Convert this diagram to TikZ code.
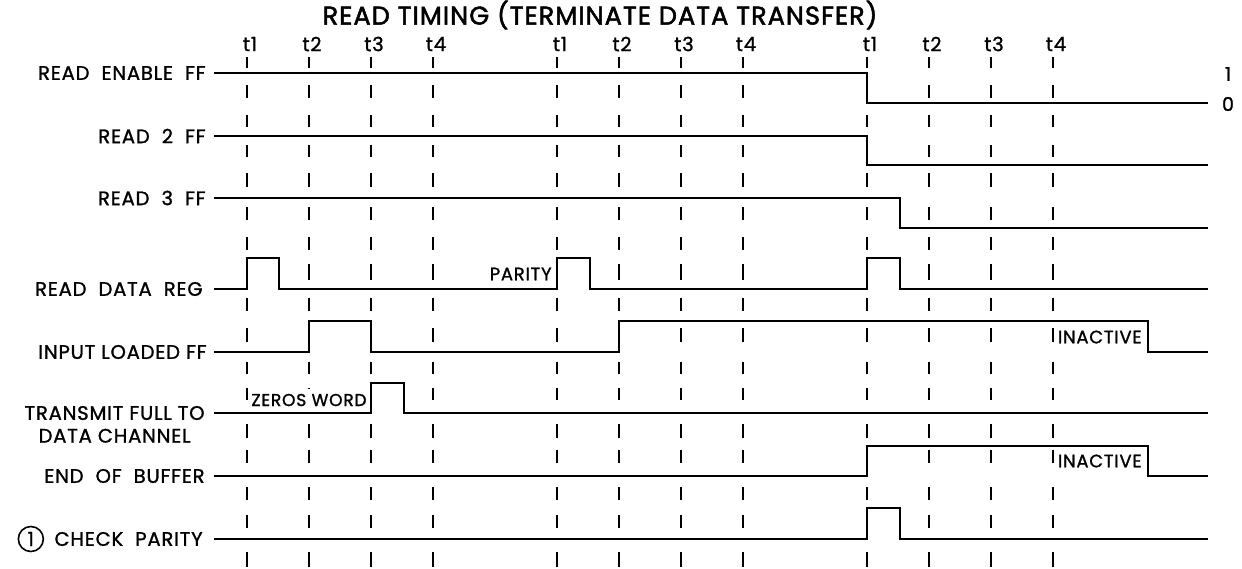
\documentclass[tikz,border=0pt]{standalone}
\usepackage{fontspec}
\setmainfont{Poppins}[LetterSpace=4,FakeBold=1.2]
\usetikzlibrary{positioning}

\begin{document}
\begin{tikzpicture}[
    x=0.5pt, y=-0.5pt,
    every node/.style={font=\fontsize{9.8}{11}\selectfont, inner sep=0pt},
    sig/.style={draw=black, line width=1pt, line join=miter},
    tick/.style={draw=black, line width=0.8pt},
    lbl/.style={anchor=east},
    note/.style={anchor=east, font=\fontsize{9}{10}\selectfont},
    lvl/.style={font=\fontsize{9.5}{10}\selectfont}
  ]
  \useasboundingbox (0,0) rectangle (1242,568);
  % title
  \node[font=\fontsize{12.8}{14}\selectfont\addfontfeatures{FakeBold=2}] (title) at (600,15) {READ TIMING (TERMINATE DATA TRANSFER)};
  % clock phases: dashed time lines and their labels
  \foreach \c [count=\n] in {247,557,867}{
    \foreach \k in {0,...,3}{
      \pgfmathsetmacro{\tx}{\c+62*\k}
      \pgfmathtruncatemacro{\tn}{\k+1}
      \node (t\tn-\n) at (\tx+3,44) {t\tn};
      \foreach \ya/\yb in {57/68,85/98,115/127,145/157,173/187,207/220,237/250,264/280,298/311,328/342,362/374,388/400,424/438,450/463,487/500,515/528,552/567}{
        \draw[tick] (\tx,\ya) -- (\tx,\yb);
      }
    }
  }
  % signal names
  \node[lbl] (ren) at (206,73) {READ~~ENABLE~~FF};
  \node[lbl] (rd2) at (206,136) {READ~~2~~FF};
  \node[lbl] (rd3) at (206,198) {READ~~3~~FF};
  \node[lbl] (rdr) at (203,289) {READ~~DATA~~REG};
  \node[lbl] (ilf) at (207,352) {INPUT LOADED FF};
  \node[lbl] (tfd) at (205,413) {TRANSMIT FULL TO};
  \node[below=4pt of tfd] (tfd2) {DATA CHANNEL};
  \node[lbl] (eob) at (205,476) {END~~OF~~BUFFER};
  \node[lbl] (cpy) at (203,539) {CHECK~~PARITY};
  \node[circle, draw, line width=0.8pt, minimum size=12.5pt, left=5pt of cpy] (cpn) {1};
  % levels
  \node[lvl] (lv1) at (1228,74) {1};
  \node[lvl] (lv0) at (1228,104) {0};
  % waveforms
  \draw[sig] (214,73) -- (867,73) -- (867,103) -- (1208,103);
  \draw[sig] (214,136) -- (867,136) -- (867,165) -- (1208,165);
  \draw[sig] (214,198) -- (900,198) -- (900,228) -- (1208,228);
  \draw[sig] (214,289) -- (247,289) -- (247,258) -- (279,258) -- (279,289)
    -- (557,289) -- (557,258) -- (590,258) -- (590,289)
    -- (867,289) -- (867,258) -- (900,258) -- (900,289) -- (1208,289);
  \draw[sig] (214,352) -- (309,352) -- (309,321) -- (371,321) -- (371,352)
    -- (619,352) -- (619,321) -- (1148,321) -- (1148,352) -- (1208,352);
  \draw[sig] (214,413) -- (371,413) -- (371,383) -- (404,383) -- (404,413) -- (1208,413);
  \draw[sig] (214,476) -- (867,476) -- (867,446) -- (1148,446) -- (1148,476) -- (1208,476);
  \draw[sig] (214,539) -- (867,539) -- (867,508) -- (900,508) -- (900,539) -- (1208,539);
  % notes
  \node[note] (par) at (552,274) {PARITY};
  \node[note, fill=white, inner ysep=2.5pt, font=\fontsize{8.6}{10}\selectfont] (zw) at (367,400) {ZEROS WORD};
  \node[note] (ina1) at (1142,337) {INACTIVE};
  \node[note] (ina2) at (1142,461) {INACTIVE};
\end{tikzpicture}
\end{document}
